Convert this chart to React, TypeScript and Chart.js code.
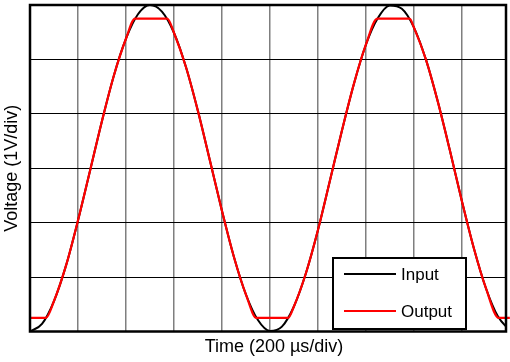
import React, { useEffect, useRef } from 'react';
import { Chart, registerables } from 'chart.js';

Chart.register(...registerables);

// Time in divisions (200 µs/div), voltage in divisions (1 V/div)
const timeDiv = [
  0, 0.25, 0.5, 0.75, 1, 1.25, 1.5, 1.75, 2, 2.25, 2.5, 2.75, 3, 3.25, 3.5, 3.75, 4, 4.25, 4.5, 4.75,
  5, 5.25, 5.5, 5.75, 6, 6.25, 6.5, 6.75, 7, 7.25, 7.5, 7.75, 8, 8.25, 8.5, 8.75, 9, 9.25, 9.5, 9.75, 10,
];
const inputVolts = [
  0, 0.14, 0.56, 1.21, 2.04, 2.95, 3.87, 4.71, 5.38, 5.83, 6.0, 5.88, 5.49, 4.86, 4.05, 3.14, 2.22, 1.37, 0.68, 0.21,
  0.01, 0.09, 0.46, 1.07, 1.86, 2.77, 3.69, 4.55, 5.27, 5.76, 5.99, 5.93, 5.59, 5.0, 4.22, 3.33, 2.4, 1.53, 0.8, 0.28, 0.02,
];
const outputTime = [
  0, 0.25, 0.33, 0.5, 0.75, 1, 1.25, 1.5, 1.75, 2, 2.19, 2.25, 2.5, 2.75, 2.86, 3, 3.25, 3.5, 3.75, 4, 4.25, 4.5,
  4.72, 4.75, 5, 5.25, 5.38, 5.5, 5.75, 6, 6.25, 6.5, 6.75, 7, 7.24, 7.25, 7.5, 7.75, 7.91, 8, 8.25, 8.5, 8.75, 9,
  9.25, 9.5, 9.77, 10,
];
const outputVolts = [
  0.25, 0.25, 0.25, 0.56, 1.21, 2.04, 2.95, 3.87, 4.71, 5.38, 5.75, 5.75, 5.75, 5.75, 5.75, 5.49, 4.86, 4.05, 3.14, 2.22, 1.37, 0.68,
  0.25, 0.25, 0.25, 0.25, 0.25, 0.46, 1.07, 1.86, 2.77, 3.69, 4.55, 5.27, 5.75, 5.75, 5.75, 5.75, 5.75, 5.59, 5.0, 4.22, 3.33, 2.4,
  1.53, 0.8, 0.25, 0.25,
];
const xGridTicks = [0, 1, 2, 3, 4, 5, 6, 7, 8, 9];
const yGridTicks = [0, 1, 2, 3, 4, 5, 6];
const xMax = 9.92;
const yMax = 6;
const seriesLabels = ['Input', 'Output'];
const seriesColors = ['#000000', '#ff0000'];
const xTitle = 'Time (200 µs/div)';
const yTitle = 'Voltage (1V/div)';

const FONT = "'Liberation Sans', Arial, Helvetica, sans-serif";

const frameAndLegend = {
  id: 'frameAndLegend',
  afterDatasetsDraw(chart: any) {
    const { ctx, chartArea } = chart;
    const { left, top, right, bottom } = chartArea;
    ctx.save();
    // plot frame
    ctx.strokeStyle = '#000';
    ctx.lineWidth = 2.5;
    ctx.strokeRect(left, top, right - left, bottom - top);

    // legend box
    const bw = 133;
    const bh = 71;
    const bx = right - 40 - bw;
    const by = bottom - 2.5 - bh;
    ctx.fillStyle = '#fff';
    ctx.fillRect(bx, by, bw, bh);
    ctx.lineWidth = 2;
    ctx.strokeStyle = '#000';
    ctx.strokeRect(bx, by, bw, bh);

    ctx.font = `17px ${FONT}`;
    ctx.textBaseline = 'middle';
    ctx.textAlign = 'left';
    chart.data.datasets.forEach((ds: any, i: number) => {
      const ly = by + 16 + i * 37;
      ctx.strokeStyle = ds.borderColor;
      ctx.lineWidth = 2;
      ctx.beginPath();
      ctx.moveTo(bx + 11, ly);
      ctx.lineTo(bx + 63, ly);
      ctx.stroke();
      ctx.fillStyle = '#000';
      ctx.fillText(ds.label, bx + 68, ly + 1);
    });

    // x-axis title
    ctx.font = `18px ${FONT}`;
    ctx.textAlign = 'center';
    ctx.textBaseline = 'middle';
    ctx.fillStyle = '#000';
    ctx.fillText(xTitle, (left + right) / 2 + 6, chart.height - 15);
    ctx.restore();
  },
};

export default function App() {
  const canvasRef = useRef<HTMLCanvasElement | null>(null);

  useEffect(() => {
    const canvas = canvasRef.current;
    if (!canvas) return;
    const chart = new Chart(canvas, {
      type: 'line',
      data: {
        datasets: [
          {
            label: seriesLabels[0],
            data: timeDiv.map((t, i) => ({ x: t, y: inputVolts[i] })),
            borderColor: seriesColors[0],
            borderWidth: 2,
            pointRadius: 0,
            cubicInterpolationMode: 'monotone',
            order: 1,
          },
          {
            label: seriesLabels[1],
            data: outputTime.map((t, i) => ({ x: t, y: outputVolts[i] })),
            borderColor: seriesColors[1],
            borderWidth: 2.2,
            pointRadius: 0,
            cubicInterpolationMode: 'monotone',
            clip: false as any,
            order: 0,
          },
        ],
      },
      options: {
        animation: false,
        responsive: false,
        devicePixelRatio: 1,
        layout: { padding: { top: 5, right: 4, left: 0, bottom: 0 } },
        plugins: { legend: { display: false }, tooltip: { enabled: false } },
        scales: {
          x: {
            type: 'linear',
            min: 0,
            max: xMax,
            afterBuildTicks: (s: any) => {
              s.ticks = xGridTicks.map((v) => ({ value: v }));
            },
            afterFit: (s: any) => {
              s.height = 30.5;
            },
            ticks: { display: false },
            grid: { color: '#7f7f7f', lineWidth: 1.5, drawTicks: false },
            border: { display: false },
            title: { display: false },
          },
          y: {
            type: 'linear',
            min: 0,
            max: yMax,
            afterBuildTicks: (s: any) => {
              s.ticks = yGridTicks.map((v) => ({ value: v }));
            },
            afterFit: (s: any) => {
              s.width = 30;
            },
            ticks: { display: false },
            grid: { color: '#000000', lineWidth: 1, drawTicks: false },
            border: { display: false },
            title: {
              display: true,
              text: yTitle,
              color: '#000',
              font: { family: FONT, size: 18 },
              padding: { top: 1, bottom: 0 },
            },
          },
        },
      },
      plugins: [frameAndLegend],
    });
    return () => chart.destroy();
  }, []);

  return (
    <div style={{ position: 'absolute', left: 0, top: 0, width: 510, height: 362, background: '#fff' }}>
      <canvas ref={canvasRef} width={510} height={362} style={{ display: 'block' }} />
    </div>
  );
}
